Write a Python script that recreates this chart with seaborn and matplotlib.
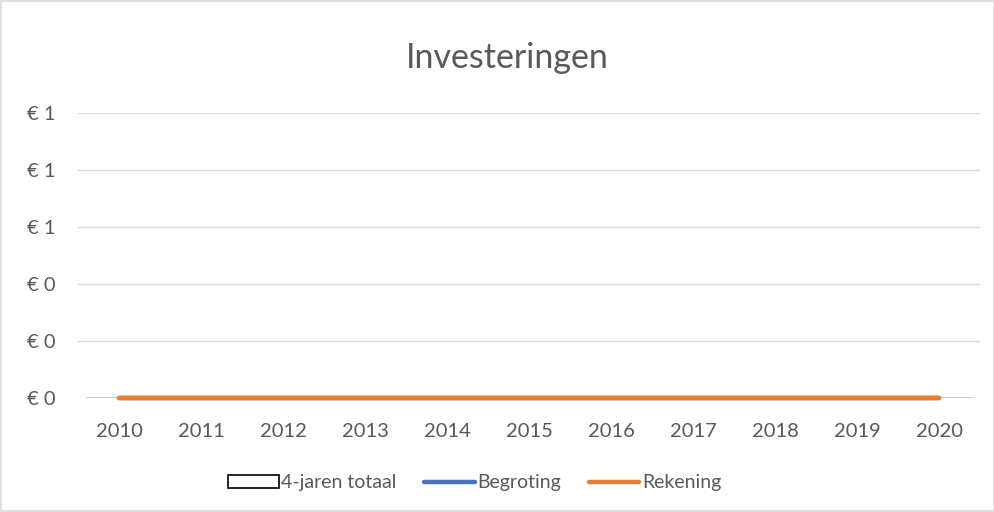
import numpy as np
import pandas as pd
import matplotlib
matplotlib.use("Agg")
import matplotlib.pyplot as plt
from matplotlib.patches import Patch, Rectangle
from matplotlib.lines import Line2D
from matplotlib.ticker import FuncFormatter, MultipleLocator
import seaborn as sns

# Data (all series are zero in the reference)
years = ['2010', '2011', '2012', '2013', '2014', '2015', '2016', '2017', '2018', '2019', '2020']
totaal_4jaar = [0, 0, 0, 0, 0, 0, 0, 0, 0, 0, 0]
begroting = [0, 0, 0, 0, 0, 0, 0, 0, 0, 0, 0]
rekening = [0, 0, 0, 0, 0, 0, 0, 0, 0, 0, 0]

df = pd.DataFrame({'jaar': years, 'totaal': totaal_4jaar,
                   'begroting': begroting, 'rekening': rekening})

sns.set_style('white')
plt.rcParams['font.family'] = ['Lato', 'DejaVu Sans']

text_col = '#595959'
grid_col = '#D9D9D9'
blue = '#4472C4'
orange = '#ED7D31'

fig = plt.figure(figsize=(9.95, 5.12), dpi=100)
ax = fig.add_axes([0.0784, 0.2227, 0.9066, 0.5566])

# bars (zero height) and lines
sns.barplot(data=df, x='jaar', y='totaal', color='white', edgecolor='black',
            linewidth=1, ax=ax, zorder=2)
sns.pointplot(data=df, x='jaar', y='begroting', color=blue, markers='',
              ax=ax, zorder=3)
sns.pointplot(data=df, x='jaar', y='rekening', color=orange, markers='',
              ax=ax, zorder=4)
for ln in ax.lines:
    ln.set_linewidth(3.2)
    ln.set_solid_capstyle('round')
    ln.set_clip_on(False)

ax.set_xlim(-0.5, len(years) - 0.5)
ax.set_ylim(0, 1.0)
ax.yaxis.set_major_locator(MultipleLocator(0.2))
ax.yaxis.set_major_formatter(FuncFormatter(lambda v, p: f'€ {v:.0f}'))
ax.grid(axis='y', color=grid_col, linewidth=1)
ax.set_axisbelow(True)
for s in ax.spines.values():
    s.set_visible(False)
ax.set_xlabel('')
ax.set_ylabel('')
ax.tick_params(axis='both', length=0, labelsize=14.5, labelcolor=text_col)
ax.tick_params(axis='y', pad=16)
ax.tick_params(axis='x', pad=18)

fig.text(0.51, 0.886, 'Investeringen', ha='center', va='center',
         fontsize=24.5, color=text_col)

handles = [Patch(facecolor='white', edgecolor='black', linewidth=1.2),
           Line2D([0], [0], color=blue, linewidth=3.2, solid_capstyle='round'),
           Line2D([0], [0], color=orange, linewidth=3.2, solid_capstyle='round')]
labels = ['4-jaren totaal', 'Begroting', 'Rekening']
fig.legend(handles, labels, loc='center', bbox_to_anchor=(0.477, 0.057), ncol=3,
           frameon=False, fontsize=14, labelcolor=text_col, handlelength=2.6,
           handleheight=0.7, handletextpad=0.15, columnspacing=1.4)

# outer chart border
fig.patches.append(Rectangle((0.0015, 0.002), 0.997, 0.996, transform=fig.transFigure,
                             fill=False, edgecolor=grid_col, linewidth=1.2))

fig.savefig('out.png', dpi=100)
